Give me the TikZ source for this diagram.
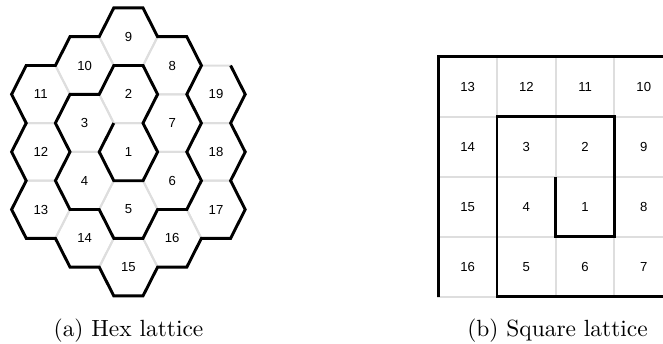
\documentclass[tikz,border=0pt]{standalone}
\usepackage{fontspec}
\newfontfamily\cellfont{Liberation Sans}
\usetikzlibrary{shapes.geometric}
\definecolor{gridGray}{RGB}{222,222,222}
\begin{document}
\begin{tikzpicture}[x=0.015cm, y=-0.015cm, hexStyle/.style={regular polygon, regular polygon sides=6, minimum size=0.876cm, inner sep=0pt, outer sep=0pt, yscale=1.139, draw=gridGray, line width=0.85pt}, squareStyle/.style={rectangle, draw=gridGray, line width=0.85pt, minimum width=0.8805cm, minimum height=0.9015cm, inner sep=0pt, outer sep=0pt, font=\cellfont\fontsize{5.6}{6.5}\selectfont}, numStyle/.style={inner sep=0pt, font=\cellfont\fontsize{5.6}{6.5}\selectfont}, wallStyle/.style={draw=black, line width=1.25pt}, captionStyle/.style={anchor=base, inner sep=0pt}]
    \useasboundingbox (0,0) rectangle (663,343);
    \node[hexStyle] (hex_1)  at (128.4,151.9) {};
    \node[hexStyle] (hex_2)  at (128.4, 94.3) {};
    \node[hexStyle] (hex_3)  at ( 84.6,123.1) {};
    \node[hexStyle] (hex_4)  at ( 84.6,180.7) {};
    \node[hexStyle] (hex_5)  at (128.4,209.5) {};
    \node[hexStyle] (hex_6)  at (172.2,180.7) {};
    \node[hexStyle] (hex_7)  at (172.2,123.1) {};
    \node[hexStyle] (hex_8)  at (172.2, 65.5) {};
    \node[hexStyle] (hex_9)  at (128.4, 36.7) {};
    \node[hexStyle] (hex_10) at ( 84.6, 65.5) {};
    \node[hexStyle] (hex_11) at ( 40.8, 94.3) {};
    \node[hexStyle] (hex_12) at ( 40.8,151.9) {};
    \node[hexStyle] (hex_13) at ( 40.8,209.5) {};
    \node[hexStyle] (hex_14) at ( 84.6,238.3) {};
    \node[hexStyle] (hex_15) at (128.4,267.1) {};
    \node[hexStyle] (hex_16) at (172.2,238.3) {};
    \node[hexStyle] (hex_17) at (216.0,209.5) {};
    \node[hexStyle] (hex_18) at (216.0,151.9) {};
    \node[hexStyle] (hex_19) at (216.0, 94.3) {};
    \node[numStyle] (hexNum_1)  at (hex_1)  {1};
    \node[numStyle] (hexNum_2)  at (hex_2)  {2};
    \node[numStyle] (hexNum_3)  at (hex_3)  {3};
    \node[numStyle] (hexNum_4)  at (hex_4)  {4};
    \node[numStyle] (hexNum_5)  at (hex_5)  {5};
    \node[numStyle] (hexNum_6)  at (hex_6)  {6};
    \node[numStyle] (hexNum_7)  at (hex_7)  {7};
    \node[numStyle] (hexNum_8)  at (hex_8)  {8};
    \node[numStyle] (hexNum_9)  at (hex_9)  {9};
    \node[numStyle] (hexNum_10) at (hex_10) {10};
    \node[numStyle] (hexNum_11) at (hex_11) {11};
    \node[numStyle] (hexNum_12) at (hex_12) {12};
    \node[numStyle] (hexNum_13) at (hex_13) {13};
    \node[numStyle] (hexNum_14) at (hex_14) {14};
    \node[numStyle] (hexNum_15) at (hex_15) {15};
    \node[numStyle] (hexNum_16) at (hex_16) {16};
    \node[numStyle] (hexNum_17) at (hex_17) {17};
    \node[numStyle] (hexNum_18) at (hex_18) {18};
    \node[numStyle] (hexNum_19) at (hex_19) {19};
    \draw[wallStyle] (hex_1.corner 2) -- (hex_1.corner 3) -- (hex_1.corner 4) -- (hex_1.corner 5) -- (hex_1.corner 6) -- (hex_1.corner 1)
        -- (hex_2.corner 6) -- (hex_2.corner 1) -- (hex_2.corner 2) -- (hex_2.corner 3)
        -- (hex_3.corner 2) -- (hex_3.corner 3) -- (hex_3.corner 4)
        -- (hex_4.corner 3) -- (hex_4.corner 4) -- (hex_4.corner 5)
        -- (hex_5.corner 4) -- (hex_5.corner 5) -- (hex_5.corner 6)
        -- (hex_6.corner 5) -- (hex_6.corner 6) -- (hex_6.corner 1)
        -- (hex_7.corner 6) -- (hex_7.corner 1)
        -- (hex_8.corner 6) -- (hex_8.corner 1) -- (hex_8.corner 2)
        -- (hex_9.corner 1) -- (hex_9.corner 2) -- (hex_9.corner 3)
        -- (hex_10.corner 2) -- (hex_10.corner 3)
        -- (hex_11.corner 2) -- (hex_11.corner 3) -- (hex_11.corner 4)
        -- (hex_12.corner 3) -- (hex_12.corner 4)
        -- (hex_13.corner 3) -- (hex_13.corner 4) -- (hex_13.corner 5)
        -- (hex_14.corner 4) -- (hex_14.corner 5)
        -- (hex_15.corner 4) -- (hex_15.corner 5) -- (hex_15.corner 6)
        -- (hex_16.corner 5) -- (hex_16.corner 6)
        -- (hex_17.corner 5) -- (hex_17.corner 6) -- (hex_17.corner 1)
        -- (hex_18.corner 6) -- (hex_18.corner 1)
        -- (hex_19.corner 6) -- (hex_19.corner 1);
    \node[squareStyle] (sq_13) at (467.65, 86.55) {13};
    \node[squareStyle] (sq_12) at (526.35, 86.55) {12};
    \node[squareStyle] (sq_11) at (585.05, 86.55) {11};
    \node[squareStyle] (sq_10) at (643.75, 86.55) {10};
    \node[squareStyle] (sq_14) at (467.65,146.65) {14};
    \node[squareStyle] (sq_3)  at (526.35,146.65) {3};
    \node[squareStyle] (sq_2)  at (585.05,146.65) {2};
    \node[squareStyle] (sq_9)  at (643.75,146.65) {9};
    \node[squareStyle] (sq_15) at (467.65,206.75) {15};
    \node[squareStyle] (sq_4)  at (526.35,206.75) {4};
    \node[squareStyle] (sq_1)  at (585.05,206.75) {1};
    \node[squareStyle] (sq_8)  at (643.75,206.75) {8};
    \node[squareStyle] (sq_16) at (467.65,266.85) {16};
    \node[squareStyle] (sq_5)  at (526.35,266.85) {5};
    \node[squareStyle] (sq_6)  at (585.05,266.85) {6};
    \node[squareStyle] (sq_7)  at (643.75,266.85) {7};
    \draw[wallStyle] (sq_10.north east) -- (sq_13.north west) -- (sq_16.south west);
    \draw[wallStyle] (sq_1.north west) -- (sq_1.south west) -- (sq_1.south east) -- (sq_2.north east) -- (sq_3.north west) -- (sq_5.south west) -- (sq_7.south east);
    \node[captionStyle] (cap_hex) at (128.5,336) {(a) Hex lattice};
    \node[captionStyle] (cap_sq)  at (557.5,336) {(b) Square lattice};
\end{tikzpicture}
\end{document}
